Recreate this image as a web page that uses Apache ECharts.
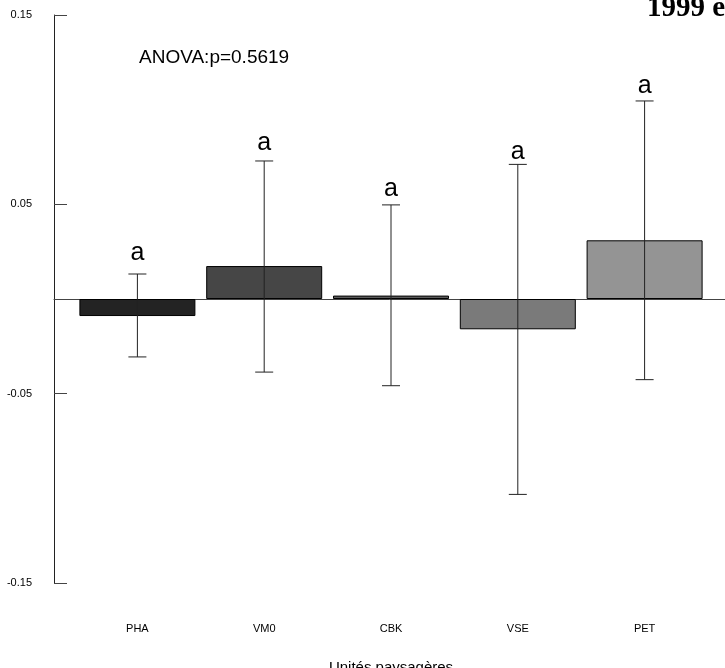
<!DOCTYPE html>
<html>
<head>
<meta charset="utf-8">
<script src="https://cdn.jsdelivr.net/npm/echarts@6/dist/echarts.min.js"></script>
<style>html,body{margin:0;padding:0;background:#fff}#c{width:725px;height:668px}</style>
</head>
<body>
<div id="c"></div>
<script>
const categories = ['PHA', 'VM0', 'CBK', 'VSE', 'PET'];
const means = [-0.009, 0.0174, 0.0018, -0.016, 0.031];
const errLow = [-0.0306, -0.0386, -0.0458, -0.1032, -0.0426];
const errHigh = [0.0132, 0.0729, 0.0497, 0.0711, 0.1046];
const letters = ['a', 'a', 'a', 'a', 'a'];
const letterY = [0.0241, 0.0823, 0.058, 0.0778, 0.1126];
const barColors = ['#232323', '#464646', '#5c5c5c', '#7a7a7a', '#949494'];
const yTicks = { min: -0.15, max: 0.15, interval: 0.1 };

const chart = echarts.init(document.getElementById('c'), null, { renderer: 'canvas' });
const sans = 'Liberation Sans, Arial, sans-serif';

chart.setOption({
  animation: false,
  backgroundColor: '#ffffff',
  title: [
    { text: '1999 et 2000', left: 642, top: -11,
      textStyle: { fontFamily: 'Liberation Serif, Times New Roman, serif', fontWeight: 'bold', fontSize: 29, color: '#000' } },
    { text: 'ANOVA:p=0.5619', left: 134, top: 43,
      textStyle: { fontFamily: sans, fontWeight: 'normal', fontSize: 19, color: '#000' } }
  ],
  grid: [
    { left: 74, width: 634, top: 15, bottom: 85, outerBoundsMode: 'none', containLabel: false },
    { left: 54, right: -40, top: 15, bottom: 85, outerBoundsMode: 'none', containLabel: false }
  ],
  xAxis: [
    { type: 'category', gridIndex: 0, data: categories,
      axisLine: { show: false, onZero: false }, axisTick: { show: false },
      axisLabel: { margin: 40, fontFamily: sans, fontSize: 11, color: '#000' },
      name: 'Unités paysagères', nameLocation: 'middle', nameGap: 77,
      nameTextStyle: { fontFamily: sans, fontSize: 15, color: '#000' } },
    { type: 'value', gridIndex: 1, min: 0, max: 1,
      axisLine: { show: true, onZero: true, lineStyle: { color: '#444', width: 1 } },
      axisTick: { show: false }, axisLabel: { show: false }, splitLine: { show: false } }
  ],
  yAxis: [
    { type: 'value', gridIndex: 0, min: yTicks.min, max: yTicks.max, interval: yTicks.interval, show: false },
    { type: 'value', gridIndex: 1, min: yTicks.min, max: yTicks.max, interval: yTicks.interval,
      axisLine: { show: true, lineStyle: { color: '#222', width: 1 } },
      axisTick: { show: true, inside: true, length: 13, lineStyle: { color: '#444', width: 1 } },
      splitLine: { show: false },
      axisLabel: { margin: 22, fontFamily: sans, fontSize: 11, color: '#000',
        formatter: v => v.toFixed(2) } }
  ],
  series: [
    { type: 'bar', xAxisIndex: 0, yAxisIndex: 0, barWidth: 116, z: 2,
      data: means.map((v, i) => ({ value: v, itemStyle: { color: barColors[i] } })),
      itemStyle: { borderColor: '#000', borderWidth: 1 } },
    { type: 'custom', xAxisIndex: 0, yAxisIndex: 0, z: 5,
      data: categories.map((c, i) => [i, errLow[i], errHigh[i]]),
      encode: { x: 0, y: [1, 2] },
      renderItem: (params, api) => {
        const i = api.value(0);
        const lo = api.coord([i, api.value(1)]);
        const hi = api.coord([i, api.value(2)]);
        const hw = 9;
        const st = { stroke: '#222', lineWidth: 1 };
        return { type: 'group', children: [
          { type: 'line', shape: { x1: lo[0], y1: lo[1], x2: hi[0], y2: hi[1] }, style: st },
          { type: 'line', shape: { x1: hi[0] - hw, y1: hi[1], x2: hi[0] + hw, y2: hi[1] }, style: st },
          { type: 'line', shape: { x1: lo[0] - hw, y1: lo[1], x2: lo[0] + hw, y2: lo[1] }, style: st }
        ] };
      } },
    { type: 'custom', xAxisIndex: 0, yAxisIndex: 0, z: 6,
      data: categories.map((c, i) => [i, letterY[i]]),
      encode: { x: 0, y: 1 },
      renderItem: (params, api) => {
        const p = api.coord([api.value(0), api.value(1)]);
        return { type: 'text', x: p[0], y: p[1],
          style: { text: letters[params.dataIndex], fontFamily: sans, fontSize: 25, fill: '#000',
            align: 'center', verticalAlign: 'middle' } };
      } }
  ]
});
</script>
</body>
</html>
